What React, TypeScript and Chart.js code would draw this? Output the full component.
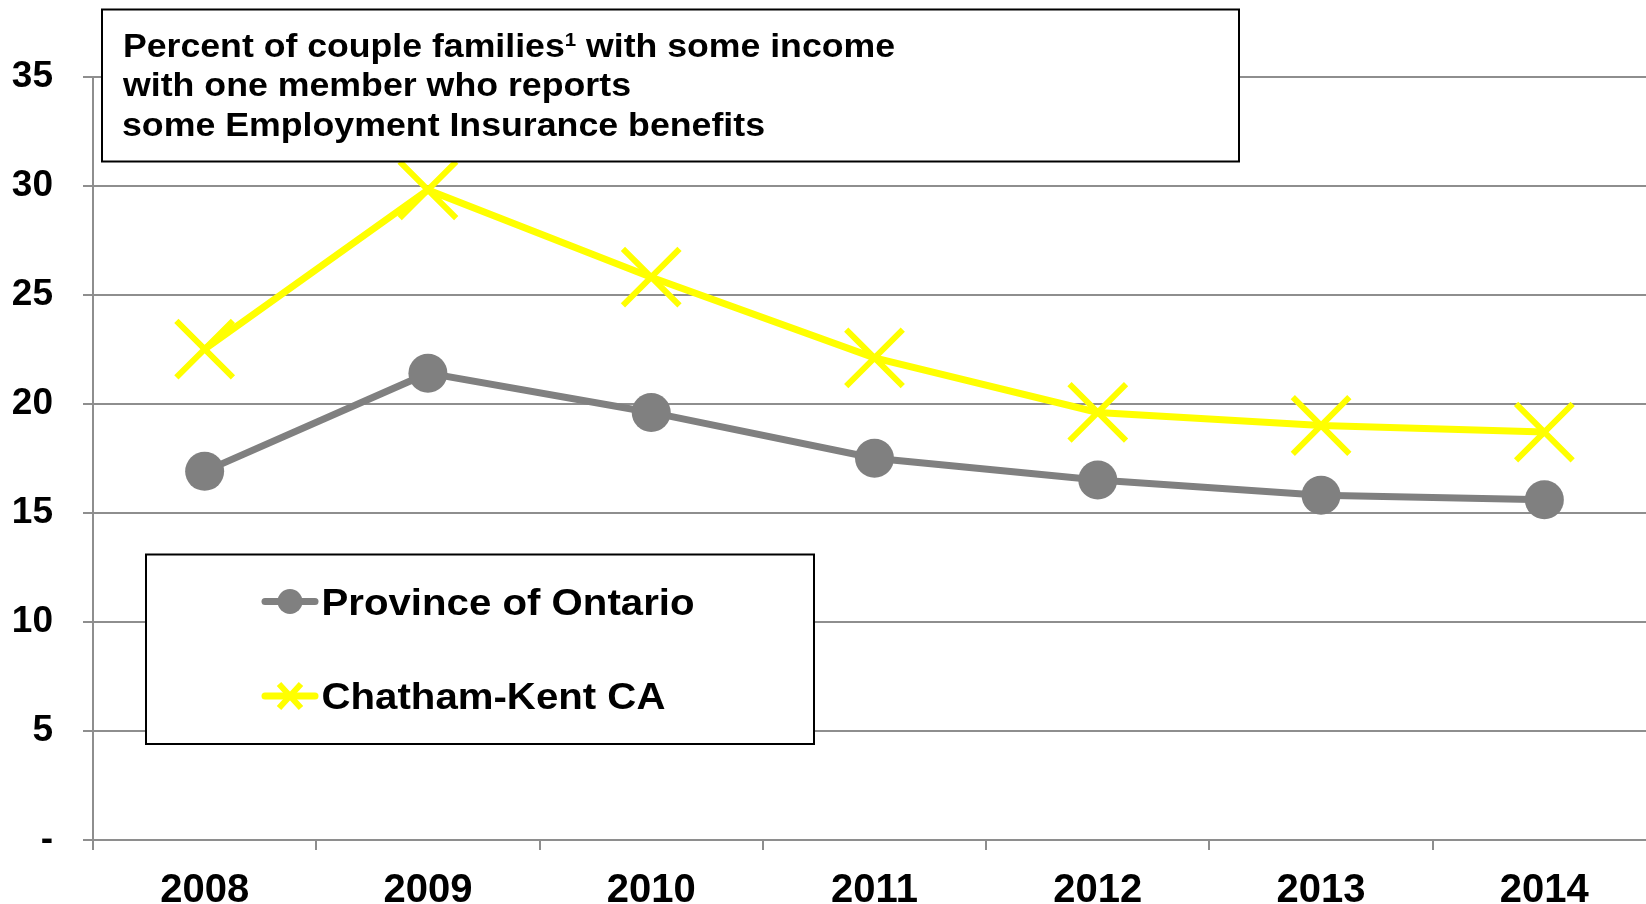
import React, { useEffect, useRef } from 'react';
import { Chart, registerables } from 'chart.js';

Chart.register(...registerables);

// ---- data ----
const years = ['2008', '2009', '2010', '2011', '2012', '2013', '2014'];
const ontario = [16.9, 21.4, 19.6, 17.5, 16.5, 15.8, 15.6];
const chathamKent = [22.5, 29.8, 25.8, 22.1, 19.6, 19.0, 18.7];
const seriesNames = ['Province of Ontario', 'Chatham-Kent CA'];
const titleLine1a = 'Percent of couple families';
const titleSup = '1';
const titleLine1b = ' with some income';
const titleLine2 = 'with one member who reports';
const titleLine3 = 'some Employment Insurance benefits';
const yMin = 0;
const yMax = 35;
const yStep = 5;

const GRAY = '#808080';
const YELLOW = '#FFFF00';
const GRID = '#8e8e8e';
const FONT = '"Liberation Sans", Arial, sans-serif';

function drawScaled(ctx: CanvasRenderingContext2D, parts: { t: string; font: string; dy: number }[], x: number, y: number, target: number) {
  let w = 0;
  for (const p of parts) {
    ctx.font = p.font;
    w += ctx.measureText(p.t).width;
  }
  const sx = target / w;
  ctx.save();
  ctx.translate(x, y);
  ctx.scale(sx, 1);
  let cx = 0;
  for (const p of parts) {
    ctx.font = p.font;
    ctx.fillText(p.t, cx, p.dy);
    cx += ctx.measureText(p.t).width;
  }
  ctx.restore();
}

const boxesPlugin = {
  id: 'boxes',
  afterDraw(chart: any) {
    const ctx: CanvasRenderingContext2D = chart.ctx;
    ctx.save();
    // Title box
    ctx.fillStyle = '#ffffff';
    ctx.fillRect(102, 9.5, 1137, 152);
    ctx.strokeStyle = '#000000';
    ctx.lineWidth = 2;
    ctx.strokeRect(102, 9.5, 1137, 152);
    ctx.fillStyle = '#000000';
    ctx.textBaseline = 'alphabetic';
    ctx.textAlign = 'left';
    const tf = `bold 33px ${FONT}`;
    const sf = `bold 19px ${FONT}`;
    drawScaled(ctx, [
      { t: titleLine1a, font: tf, dy: 0 },
      { t: titleSup, font: sf, dy: -11 },
      { t: titleLine1b, font: tf, dy: 0 },
    ], 123, 56.5, 772);
    drawScaled(ctx, [{ t: titleLine2, font: tf, dy: 0 }], 123, 96, 508);
    drawScaled(ctx, [{ t: titleLine3, font: tf, dy: 0 }], 122, 136, 643);

    // Legend box
    ctx.fillStyle = '#ffffff';
    ctx.fillRect(146, 554.5, 668, 189.5);
    ctx.strokeStyle = '#000000';
    ctx.lineWidth = 2;
    ctx.strokeRect(146, 554.5, 668, 189.5);

    const lf = `bold 37px ${FONT}`;
    ctx.font = lf;
    const sxL = 373 / ctx.measureText(seriesNames[0]).width;
    const rows = [
      { y: 601.5, base: 615, color: GRAY, style: 'circle' },
      { y: 696, base: 708.5, color: YELLOW, style: 'cross' },
    ];
    rows.forEach((r, i) => {
      ctx.strokeStyle = r.color;
      ctx.lineWidth = 7;
      ctx.lineCap = 'round';
      ctx.beginPath();
      ctx.moveTo(265, r.y);
      ctx.lineTo(315, r.y);
      ctx.stroke();
      if (r.style === 'circle') {
        ctx.fillStyle = r.color;
        ctx.beginPath();
        ctx.arc(290, r.y, 12.5, 0, Math.PI * 2);
        ctx.fill();
      } else {
        ctx.lineCap = 'butt';
        ctx.lineWidth = 6;
        ctx.beginPath();
        ctx.moveTo(279, r.y - 12);
        ctx.lineTo(301, r.y + 12);
        ctx.moveTo(301, r.y - 12);
        ctx.lineTo(279, r.y + 12);
        ctx.stroke();
      }
      ctx.fillStyle = '#000000';
      ctx.save();
      ctx.translate(321.5, r.base);
      ctx.scale(sxL, 1);
      ctx.font = lf;
      ctx.fillText(seriesNames[i], 0, 0);
      ctx.restore();
    });
    ctx.restore();
  },
};

export default function App() {
  const ref = useRef<HTMLCanvasElement | null>(null);
  useEffect(() => {
    if (!ref.current) return;
    const chart = new Chart(ref.current, {
      type: 'line',
      data: {
        labels: years,
        datasets: [
          {
            label: seriesNames[0],
            data: ontario,
            borderColor: GRAY,
            backgroundColor: GRAY,
            borderWidth: 7,
            pointStyle: 'circle',
            pointRadius: 19.5,
            pointBackgroundColor: GRAY,
            pointBorderColor: GRAY,
            pointBorderWidth: 0,
            tension: 0,
          },
          {
            label: seriesNames[1],
            data: chathamKent,
            borderColor: YELLOW,
            backgroundColor: YELLOW,
            borderWidth: 7,
            pointStyle: 'crossRot',
            pointRadius: 40,
            pointBackgroundColor: YELLOW,
            pointBorderColor: YELLOW,
            pointBorderWidth: 6,
            tension: 0,
          },
        ],
      },
      options: {
        responsive: false,
        animation: false,
        devicePixelRatio: 1,
        layout: { autoPadding: false, padding: { top: 76.5, left: 0, right: 0, bottom: 0 } },
        plugins: {
          legend: { display: false },
          tooltip: { enabled: false },
          title: { display: false },
        },
        scales: {
          x: {
            type: 'category',
            offset: true,
            grid: {
              display: true,
              drawOnChartArea: false,
              drawTicks: true,
              offset: true,
              tickLength: 10,
              color: GRID,
              lineWidth: 2,
            },
            border: { display: true, color: GRID, width: 2 },
            ticks: {
              color: '#000000',
              padding: 17,
              maxRotation: 0,
              autoSkip: false,
              font: { family: FONT, size: 40, weight: 'bold' },
            },
            afterFit: (scale: any) => {
              scale.height = 64;
            },
          },
          y: {
            min: yMin,
            max: yMax,
            grid: {
              display: true,
              drawOnChartArea: true,
              drawTicks: true,
              tickLength: 10,
              color: GRID,
              lineWidth: 2,
            },
            border: { display: true, color: GRID, width: 2 },
            ticks: {
              stepSize: yStep,
              color: '#000000',
              padding: 30,
              font: { family: FONT, size: 37, weight: 'bold' },
              callback: (v: any) => (Number(v) === 0 ? '-' : String(v)),
            },
            afterFit: (scale: any) => {
              scale.width = 93;
            },
          },
        },
      },
      plugins: [boxesPlugin],
    });
    return () => chart.destroy();
  }, []);

  return (
    <div
      style={{
        position: 'fixed',
        left: 0,
        top: 0,
        width: 1646,
        height: 904,
        overflow: 'hidden',
        background: '#ffffff',
      }}
    >
      <canvas ref={ref} width={1656} height={904} style={{ display: 'block', width: 1656, height: 904 }} />
    </div>
  );
}
